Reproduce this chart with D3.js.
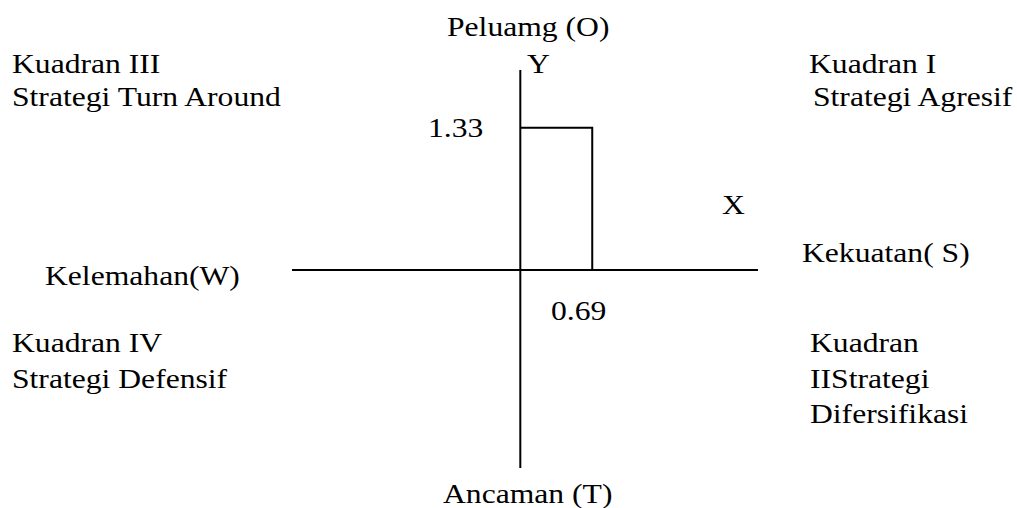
<!DOCTYPE html>
<html>
<head>
<meta charset="utf-8">
<script src="https://cdn.jsdelivr.net/npm/d3@7"></script>
<style>
  html, body { margin: 0; padding: 0; background: #fff; }
  svg { display: block; }
  text { font-family: "Liberation Serif", "Times New Roman", serif; font-size: 28px; fill: #000; }
</style>
</head>
<body>
<svg id="chart" width="1017" height="508"></svg>
<script>
// ---- data ----
const strengthValue = 0.69;     // X (Kekuatan - Kelemahan)
const opportunityValue = 1.33;  // Y (Peluang - Ancaman)
const xDomain = [-2.19, 2.28];
const yDomain = [-1.85, 1.87];
const axisLabels = ["Peluamg (O)", "Ancaman (T)", "Kelemahan(W)", "Kekuatan( S)", "X", "Y"];
const quadrantI = ["Kuadran I", "Strategi Agresif"];
const quadrantII = ["Kuadran", "IIStrategi", "Difersifikasi"];
const quadrantIII = ["Kuadran III", "Strategi Turn Around"];
const quadrantIV = ["Kuadran IV", "Strategi Defensif"];

// ---- drawing ----
const svg = d3.select("#chart");
const x = d3.scaleLinear().domain(xDomain).range([292, 758]);
const y = d3.scaleLinear().domain(yDomain).range([468, 70]);
const SX = 1.13;

// axes
svg.append("line")
  .attr("x1", x(xDomain[0])).attr("x2", x(xDomain[1]))
  .attr("y1", y(0)).attr("y2", y(0))
  .attr("stroke", "#000").attr("stroke-width", 2);
svg.append("line")
  .attr("x1", x(0)).attr("x2", x(0))
  .attr("y1", y(yDomain[1])).attr("y2", y(yDomain[0]))
  .attr("stroke", "#000").attr("stroke-width", 2);

// position marker
svg.append("path")
  .attr("d", `M${x(0)},${y(opportunityValue)}H${x(strengthValue)}V${y(0)}`)
  .attr("fill", "none").attr("stroke", "#000").attr("stroke-width", 2);

function label(txt, lx, ly) {
  svg.append("text")
    .attr("transform", `translate(${lx},${ly}) scale(${SX},1)`)
    .text(txt);
}

// value labels
label(d3.format(".2f")(opportunityValue), 428, 137);
label(d3.format(".2f")(strengthValue), 551, 320);

// axis labels
label(axisLabels[0], 447, 36);
label(axisLabels[5], 527, 73);
label(axisLabels[4], 722, 214);
label(axisLabels[3], 802, 262);
label(axisLabels[2], 45, 285);
label(axisLabels[1], 443, 503);

// quadrant labels
const lines = (arr, lx, ly0, dy) => arr.forEach((t, i) => label(t, lx, ly0 + i * dy));
lines(quadrantIII, 12, 73, 33);
lines(quadrantI.slice(0, 1), 809, 73, 33);
lines(quadrantI.slice(1), 813, 106, 33);
lines(quadrantIV, 12, 352, 36);
lines(quadrantII, 810, 352, 35.5);
</script>
</body>
</html>
